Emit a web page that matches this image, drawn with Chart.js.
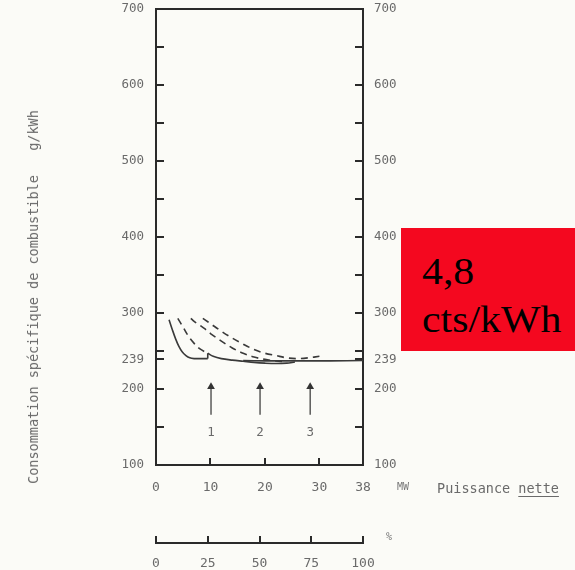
<!DOCTYPE html>
<html>
<head>
<meta charset="utf-8">
<script src="https://cdn.jsdelivr.net/npm/chart.js@4.4.1/dist/chart.umd.min.js"></script>
<style>
  html, body { margin: 0; padding: 0; background: #fbfbf7; }
  #wrap { position: relative; width: 575px; height: 570px; overflow: hidden; background: #fbfbf7; }
  #c { position: absolute; left: 0; top: 0; }
  .lbl { position: absolute; font-family: 'DejaVu Sans Mono', monospace; color: #6a6a6a; white-space: pre; }
  #ytitle { left: 33px; top: 297px; font-size: 13.5px; transform: translate(-50%, -50%) rotate(-90deg); }
  #mw { left: 397px; top: 481px; font-size: 10px; color: #777; }
  #pn { left: 437px; top: 480px; font-size: 13.5px; }
  #pn u { text-decoration: underline; text-underline-offset: 3px; }
  #pct { left: 386px; top: 531px; font-size: 10px; color: #777; }
  #red { position: absolute; left: 401px; top: 228px; width: 174px; height: 123px; background: #f4081f; }
  #red div { position: absolute; left: 21px; font-family: 'Liberation Serif', 'Times New Roman', serif; font-size: 38px; color: #000; transform-origin: left bottom; transform: scaleX(1.1); line-height: 1; }
</style>
</head>
<body>
<div id="wrap">
  <canvas id="c" width="575" height="570"></canvas>
  <div class="lbl" id="ytitle">Consommation spécifique de combustible   g/kWh</div>
  <div class="lbl" id="mw">MW</div>
  <div class="lbl" id="pn">Puissance <u>nette</u></div>
  <div class="lbl" id="pct">%</div>
  <div id="red"><div style="top:24px">4,8</div><div style="top:72px">cts/kWh</div></div>
</div>
<script>
// ---- data ----
const mwTicks = [0, 10, 20, 30, 38];
const pctTicks = [0, 25, 50, 75, 100];
const yTicks = [100, 150, 200, 239, 250, 300, 350, 400, 450, 500, 550, 600, 650, 700];
const yLabelled = [100, 200, 239, 300, 400, 500, 600, 700];

// one unit (solid)
const solid1X = [2.4, 3.0, 3.6, 4.2, 4.8, 5.5, 6.2, 7.0, 8.0, 9.5];
const solid1Y = [291, 278, 266, 256, 249, 244, 241, 240, 240, 240];
// switch-over step
const stepX = [9.5, 9.5];
const stepY = [240, 247];
// two units (solid)
const solid2X = [9.5, 10.5, 12, 14, 16, 18, 20, 22, 24, 25.5];
const solid2Y = [247, 243, 240, 238, 236.5, 235, 234, 233.5, 234, 235.5];
// three units (solid, flat)
const solid3X = [16, 20, 24, 28, 32, 38];
const solid3Y = [237.5, 237, 237, 237, 237, 237.5];
// dashed curves
const dash1X = [4.0, 5, 6, 7, 8, 9.5];
const dash1Y = [293, 281, 269, 260, 253, 247];
const dash2X = [6.4, 7, 8, 9, 10, 12, 14, 16, 18, 20, 22, 24];
const dash2Y = [293, 289, 284, 279, 273, 263, 254, 247, 242, 239, 237, 236];
const dash3X = [8.6, 9, 10, 12, 14, 16, 18, 20, 22, 24, 26, 28, 30];
const dash3Y = [293, 291, 286, 276, 267, 259, 252, 247, 244, 241, 240, 241, 243];
// arrows
const arrowX = [10.1, 19.1, 28.3];
const arrowFromY = 166;
const arrowToY = 203;
const arrowLabels = ['1', '2', '3'];
const arrowLabelY = 142;

// ---- build ----
const pts = (xs, ys) => xs.map((v, i) => ({ x: v, y: ys[i] }));
const ink = '#2a2a2a';
const curveInk = '#3a3a3a';
const tickFont = { family: "'DejaVu Sans Mono', monospace", size: 12.5 };
const tickColor = '#6a6a6a';

function lineDs(xs, ys, dashed, tension) {
  return {
    data: pts(xs, ys), borderColor: curveInk, borderWidth: 1.6,
    borderDash: dashed ? [7, 5] : [], pointRadius: 0, tension: tension, fill: false
  };
}
const datasets = [
  lineDs(solid1X, solid1Y, false, 0.35),
  lineDs(stepX, stepY, false, 0),
  lineDs(solid2X, solid2Y, false, 0.35),
  lineDs(solid3X, solid3Y, false, 0.2),
  lineDs(dash1X, dash1Y, true, 0.35),
  lineDs(dash2X, dash2Y, true, 0.35),
  lineDs(dash3X, dash3Y, true, 0.35)
];
arrowX.forEach(ax => {
  datasets.push({
    data: [{ x: ax, y: arrowFromY }, { x: ax, y: arrowToY }],
    borderColor: '#333', borderWidth: 1.2, tension: 0,
    pointRadius: [0, 4.5], pointStyle: 'triangle',
    pointBackgroundColor: '#333', pointBorderColor: '#333', pointBorderWidth: 0
  });
});

const arrowLabelPlugin = {
  id: 'arrowLabels',
  afterDatasetsDraw(chart) {
    const { ctx, scales: { x, y } } = chart;
    ctx.save();
    ctx.font = "12.5px 'DejaVu Sans Mono', monospace";
    ctx.fillStyle = '#6a6a6a';
    ctx.textAlign = 'center';
    ctx.textBaseline = 'middle';
    arrowX.forEach((v, i) => ctx.fillText(arrowLabels[i], x.getPixelForValue(v), y.getPixelForValue(arrowLabelY)));
    ctx.restore();
  }
};

const setTicks = list => scale => { scale.ticks = list.map(v => ({ value: v })); };
const yCallback = v => (yLabelled.includes(v) ? String(v) : '');
const noPad = s => { s.paddingTop = 0; s.paddingBottom = 0; s.paddingLeft = 0; s.paddingRight = 0; };

function yAxis(position, width, padding) {
  return {
    type: 'linear', position: position, min: 100, max: 700,
    afterBuildTicks: setTicks(yTicks),
    afterFit: s => { s.width = width; noPad(s); },
    grid: { drawOnChartArea: false, drawTicks: true, tickLength: -8, color: ink, lineWidth: 2 },
    border: { display: true, color: ink, width: 2 },
    ticks: { autoSkip: false, callback: yCallback, font: tickFont, color: tickColor, padding: padding }
  };
}

new Chart(document.getElementById('c'), {
  type: 'line',
  data: { datasets: datasets },
  options: {
    responsive: false, animation: false, devicePixelRatio: 1,
    layout: { padding: 0 },
    plugins: { legend: { display: false }, tooltip: { enabled: false } },
    scales: {
      x: {
        type: 'linear', position: 'bottom', min: 0, max: 38,
        afterBuildTicks: setTicks(mwTicks),
        afterFit: s => { s.height = 78; noPad(s); },
        grid: { drawOnChartArea: false, drawTicks: true, tickLength: -7, color: ink, lineWidth: 2 },
        border: { display: true, color: ink, width: 2 },
        ticks: { autoSkip: false, maxRotation: 0, font: { family: "'DejaVu Sans Mono', monospace", size: 13 }, color: tickColor, padding: 22 }
      },
      xPct: {
        type: 'linear', position: 'bottom', min: 0, max: 100,
        afterBuildTicks: setTicks(pctTicks),
        afterFit: s => { s.height = 27; noPad(s); },
        grid: { drawOnChartArea: false, drawTicks: true, tickLength: -7, color: ink, lineWidth: 2 },
        border: { display: true, color: ink, width: 2 },
        ticks: { autoSkip: false, maxRotation: 0, font: { family: "'DejaVu Sans Mono', monospace", size: 13 }, color: tickColor, padding: 20 }
      },
      xTop: {
        type: 'linear', position: 'top', min: 0, max: 38,
        afterFit: s => { s.height = 9; noPad(s); },
        grid: { display: false },
        border: { display: true, color: ink, width: 2 },
        ticks: { display: false }
      },
      y: yAxis('left', 156, 20),
      y2: yAxis('right', 212, 19)
    }
  },
  plugins: [arrowLabelPlugin]
});
</script>
</body>
</html>
